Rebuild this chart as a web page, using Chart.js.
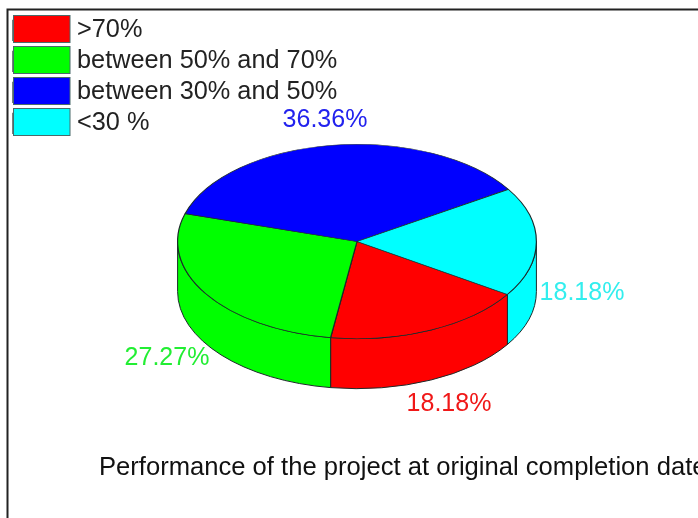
<!DOCTYPE html>
<html><head><meta charset="utf-8">
<style>html,body{margin:0;padding:0;background:#fff;overflow:hidden}canvas{display:block}</style>
<script src="https://cdn.jsdelivr.net/npm/chart.js@4"></script>
</head><body>
<canvas id="c" width="698" height="518"></canvas>
<script>
const categories = ['>70%', 'between 50% and 70%', 'between 30% and 50%', '<30 %'];
const values = [18.18, 27.27, 36.36, 18.18];
const colors = ['#ff0000', '#00ff00', '#0000ff', '#00ffff'];
const labelColors = ['#f01818', '#22ee33', '#2222ee', '#33eeee'];
const titleText = 'Performance of the project at original completion date';

const FONT = '"Liberation Sans", Arial, sans-serif';
const FONT_SIZE = 25;
const LEGEND_SIZE = 25.3;
const TITLE_SIZE = 25.6;
const SQUASH = 97.5 / 180;   // tilt of the pie
const DEPTH = 50;            // wall height
const EDGE = '#1c2a2a';
// centre of each percentage label
const labelAnchors = [[449, 404], [167, 358], [325, 120], [582, 293]];

const pie3d = {
  id: 'pie3d',
  afterLayout(chart) {
    chart.chartArea = {left: 177, right: 537, top: 61.5, bottom: 421.5, width: 360, height: 360};
    const lg = chart.legend;
    lg.left = 7.3; lg.top = 12; lg.right = 420; lg.bottom = 147; lg.width = 412.7; lg.height = 135;
    const t = chart.titleBlock;
    t.left = 99; t.right = 1000; t.width = 901; t.top = 468 - t.height / 2; t.bottom = t.top + t.height;
  },
  beforeDatasetsDraw(chart) {
    const ctx = chart.ctx;
    const arcs = chart.getDatasetMeta(0).data;
    ctx.save();
    arcs.forEach((arc, i) => {
      const {x, y, outerRadius: R, startAngle: s, endAngle: e} = arc.getProps(['x','y','outerRadius','startAngle','endAngle'], true);
      [0, 2 * Math.PI, -2 * Math.PI].forEach(off => {
        const a = Math.max(s, off), b = Math.min(e, off + Math.PI);
        if (b <= a) return;
        ctx.beginPath();
        ctx.ellipse(x, y, R, R * SQUASH, 0, a, b);
        ctx.ellipse(x, y + DEPTH, R, R * SQUASH, 0, b, a, true);
        ctx.closePath();
        ctx.fillStyle = colors[i];
        ctx.fill();
        ctx.strokeStyle = EDGE;
        ctx.lineWidth = 1;
        ctx.stroke();
      });
    });
    ctx.restore();
    const c = arcs[0];
    ctx.save();
    ctx.translate(c.x, c.y);
    ctx.scale(1, SQUASH);
    ctx.translate(-c.x, -c.y);
  },
  afterDatasetsDraw(chart) {
    const ctx = chart.ctx;
    ctx.restore();
    ctx.save();
    ctx.font = FONT_SIZE + 'px ' + FONT;
    ctx.textAlign = 'center';
    ctx.textBaseline = 'middle';
    values.forEach((v, i) => {
      ctx.fillStyle = labelColors[i];
      ctx.fillText(v.toFixed(2) + '%', labelAnchors[i][0], labelAnchors[i][1]);
    });
    ctx.restore();
  },
  afterDraw(chart) {
    const ctx = chart.ctx;
    ctx.save();
    // widen the legend swatches to the reference's size
    chart.legend.legendItems.forEach((it, i) => {
      ctx.fillStyle = it.fillStyle;
      ctx.strokeStyle = '#4a6a6a';
      ctx.lineWidth = 1;
      ctx.fillRect(13.5, 15.5 + i * 31, 56.5, 27);
      ctx.strokeRect(13.5, 15.5 + i * 31, 56.5, 27);
    });
    // plot frame
    ctx.strokeStyle = '#222';
    ctx.lineWidth = 2;
    ctx.beginPath();
    ctx.moveTo(698, 9.5);
    ctx.lineTo(7.5, 9.5);
    ctx.lineTo(7.5, 518);
    ctx.stroke();
    ctx.restore();
  }
};

new Chart(document.getElementById('c'), {
  type: 'pie',
  data: {
    labels: categories,
    datasets: [{
      data: values,
      backgroundColor: colors,
      borderColor: EDGE,
      borderWidth: 1.2,
      hoverOffset: 0
    }]
  },
  options: {
    responsive: false,
    animation: false,
    rotation: 123,
    layout: {padding: 0},
    plugins: {
      tooltip: {enabled: false},
      legend: {
        display: true,
        position: 'chartArea',
        align: 'start',
        labels: {
          boxWidth: 51.35,
          boxHeight: 20,
          padding: 5.7,
          color: '#222',
          font: {family: FONT, size: LEGEND_SIZE, lineHeight: 28 / LEGEND_SIZE}
        }
      },
      title: {
        display: true,
        text: titleText,
        position: 'bottom',
        align: 'start',
        color: '#111',
        padding: 0,
        font: {family: FONT, size: TITLE_SIZE, weight: 'normal'}
      }
    }
  },
  plugins: [pie3d]
});
</script>
</body></html>
